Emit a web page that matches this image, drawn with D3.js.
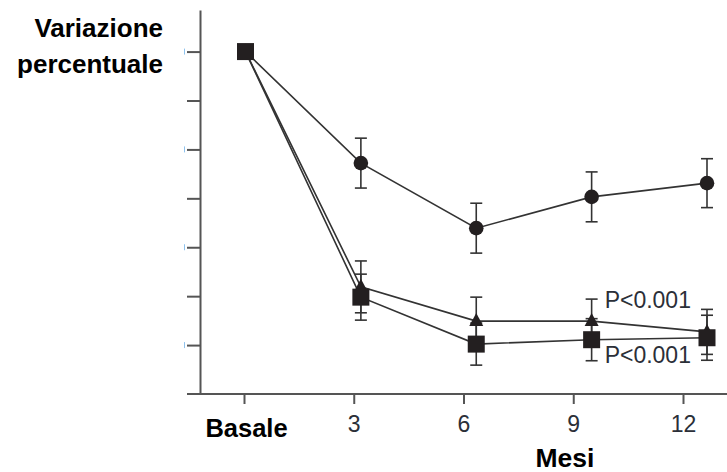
<!DOCTYPE html>
<html>
<head>
    <meta charset="UTF-8">
    <script src="https://d3js.org/d3.v7.min.js"></script>
    <title>Variazione percentuale</title>
    <style type="text/css">
        body { margin: 0; background: #fff; }
        .title { font-family: "Liberation Sans", Arial, sans-serif; font-weight: bold; fill: #000; }
        .num { font-family: "Liberation Sans", Arial, sans-serif; fill: #2b2f38; }
    </style>
</head>
<body>
<script type="text/javascript">
    // data (percent change, ticks every 10)
    var months = [0, 3, 6, 9, 12];
    var tickLabels = ["Basale", "3", "6", "9", "12"];
    var yTicks = [0, -10, -20, -30, -40, -50, -60];

    var circleMean = [0, -22.8, -36.1, -29.7, -26.9];
    var circleErr = [0, 5.1, 5.1, 5.1, 5.0];
    var triMean = [0, -48.1, -55.1, -55.1, -57.3];
    var triErr = [0, 5.3, 4.9, 4.5, 4.6];
    var sqMean = [0, -50.2, -59.8, -58.9, -58.5];
    var sqErr = [0, 4.7, 4.3, 4.3, 4.6];

    var pLabels = ["P<0.001", "P<0.001"];
    var pValues = [-52.4, -63.7];

    var width = 727, height = 472;

    var svg = d3.select("body").append("svg")
        .attr("width", width)
        .attr("height", height);

    //scales: axis ticks and plotted points don't line up exactly in the original
    var y = d3.scaleLinear().domain([8.5, -70]).range([10, 394]);
    var xTick = d3.scaleLinear().domain([0, 12]).range([244, 683]);
    var x = d3.scaleLinear().domain([0, 12]).range([245.5, 707]);

    // y axis
    var yAxis = d3.axisLeft(y)
        .tickValues(yTicks)
        .tickFormat("")
        .tickSize(13)
        .tickSizeOuter(0);

    var gy = svg.append("g")
        .attr("transform", "translate(200,0)")
        .call(yAxis);
    gy.selectAll("path, line").attr("stroke", "#555").attr("stroke-width", 2);

    // faint leftovers of the old tick labels
    svg.append("g").selectAll("line")
        .data(yTicks.filter(function (d) { return d % 20 === 0; }))
        .join("line")
        .attr("x1", 184.5).attr("x2", 184.5)
        .attr("y1", function (d) { return y(d) - 3; })
        .attr("y2", function (d) { return y(d) + 3; })
        .attr("stroke", "#8fc3ee")
        .attr("stroke-width", 1);

    // x axis (line drawn separately, it runs past the last tick)
    var xAxis = d3.axisBottom(xTick)
        .tickValues(months)
        .tickFormat(function (d, i) { return tickLabels[i]; })
        .tickSize(10)
        .tickSizeOuter(0);

    var gx = svg.append("g")
        .attr("transform", "translate(0," + y(-70) + ")")
        .call(xAxis);
    gx.select(".domain").remove();
    gx.selectAll("line").attr("stroke", "#555").attr("stroke-width", 2);
    gx.selectAll("text")
        .attr("class", function (d) { return d === 0 ? "title" : "num"; })
        .attr("x", function (d) { return d === 0 ? 2 : 0; })
        .attr("y", function (d) { return d === 0 ? 43 : 38; })
        .attr("dy", null)
        .style("font-size", function (d) { return d === 0 ? "25.5px" : "23px"; });

    svg.append("line")
        .attr("x1", 187).attr("x2", width)
        .attr("y1", y(-70)).attr("y2", y(-70))
        .attr("stroke", "#555").attr("stroke-width", 2);

    // axis titles
    var yt = svg.append("text").attr("class", "title")
        .attr("text-anchor", "end")
        .style("font-size", "26px");
    yt.append("tspan").attr("x", 163).attr("y", 37).text("Variazione");
    yt.append("tspan").attr("x", 163).attr("y", 73).text("percentuale");

    svg.append("text").attr("class", "title")
        .attr("x", 565).attr("y", 467)
        .attr("text-anchor", "middle")
        .style("font-size", "26.5px")
        .text("Mesi");

    // lines
    var line = d3.line()
        .x(function (d, i) { return x(months[i]); })
        .y(function (d) { return y(d); });

    [circleMean, triMean, sqMean].forEach(function (s) {
        svg.append("path")
            .attr("d", line(s))
            .attr("fill", "none")
            .attr("stroke", "#333")
            .attr("stroke-width", 1.6);
    });

    // error bars
    function errorBars(mean, err) {
        var g = svg.append("g").attr("stroke", "#333").attr("stroke-width", 1.6);
        months.forEach(function (m, i) {
            if (err[i] === 0) return;
            var cx = x(m), lo = y(mean[i] - err[i]), hi = y(mean[i] + err[i]);
            g.append("line").attr("x1", cx).attr("x2", cx).attr("y1", lo).attr("y2", hi);
            g.append("line").attr("x1", cx - 6).attr("x2", cx + 6).attr("y1", lo).attr("y2", lo);
            g.append("line").attr("x1", cx - 6).attr("x2", cx + 6).attr("y1", hi).attr("y2", hi);
        });
    }
    errorBars(circleMean, circleErr);
    errorBars(triMean, triErr);
    errorBars(sqMean, sqErr);

    // markers
    svg.append("g").selectAll("circle")
        .data(circleMean)
        .join("circle")
        .attr("cx", function (d, i) { return x(months[i]); })
        .attr("cy", function (d) { return y(d); })
        .attr("r", 7.3)
        .attr("fill", "#231f20");

    svg.append("g").selectAll("polygon")
        .data(triMean)
        .join("polygon")
        .attr("points", function (d, i) {
            var cx = x(months[i]), cy = y(d);
            return [[cx, cy - 8], [cx + 7, cy + 5], [cx - 7, cy + 5]].join(" ");
        })
        .attr("fill", "#231f20");

    svg.append("g").selectAll("rect")
        .data(sqMean)
        .join("rect")
        .attr("x", function (d, i) { return x(months[i]) - 8.5; })
        .attr("y", function (d) { return y(d) - 8.5; })
        .attr("width", 17)
        .attr("height", 17)
        .attr("fill", "#231f20");

    // p-value notes
    svg.append("g").selectAll("text")
        .data(pLabels)
        .join("text")
        .attr("class", "num")
        .attr("x", x(9) + 13)
        .attr("y", function (d, i) { return y(pValues[i]); })
        .style("font-size", "23px")
        .text(function (d) { return d; });
</script>
</body>
</html>
